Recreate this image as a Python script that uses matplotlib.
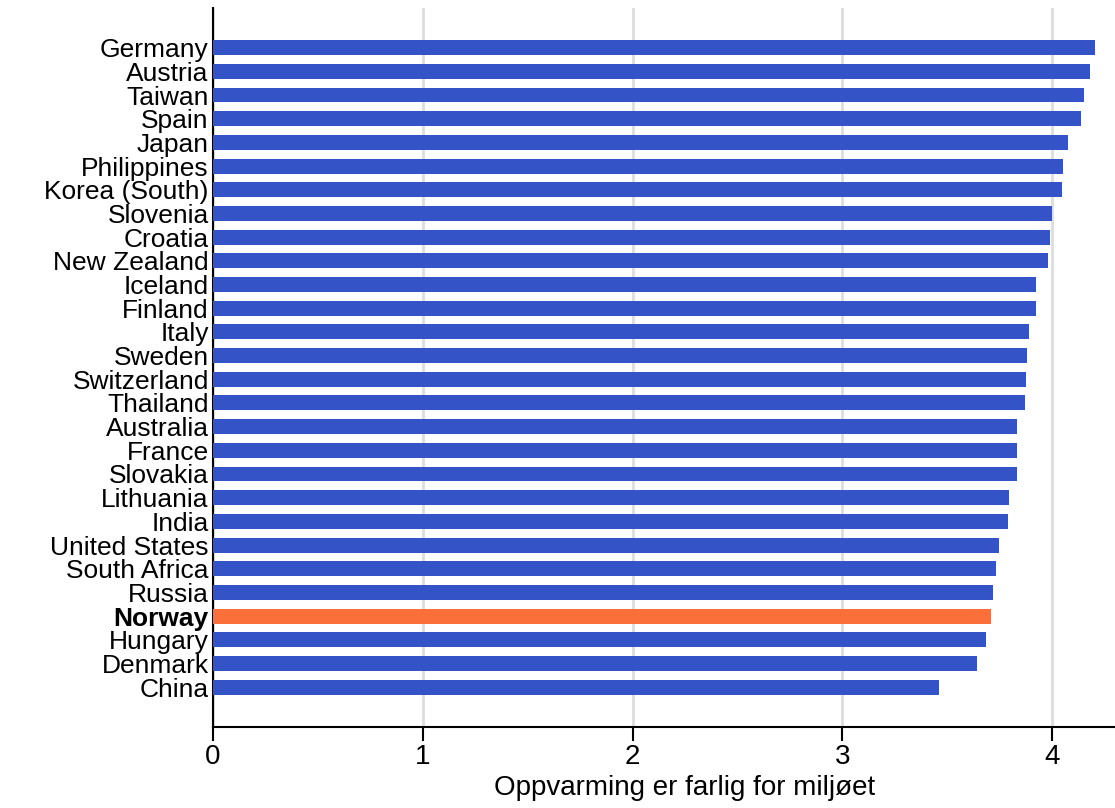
import numpy as np
import matplotlib.pyplot as plt

plt.rcParams['font.family'] = ['Liberation Sans', 'DejaVu Sans']

# data, top to bottom as in the chart
countries = ["Germany", "Austria", "Taiwan", "Spain", "Japan", "Philippines",
             "Korea (South)", "Slovenia", "Croatia", "New Zealand", "Iceland",
             "Finland", "Italy", "Sweden", "Switzerland", "Thailand", "Australia",
             "France", "Slovakia", "Lithuania", "India", "United States",
             "South Africa", "Russia", "Norway", "Hungary", "Denmark", "China"]
values = [4.205, 4.181, 4.153, 4.138, 4.076, 4.052, 4.048, 4.000, 3.990, 3.981,
          3.924, 3.924, 3.890, 3.881, 3.876, 3.871, 3.833, 3.833, 3.833, 3.795,
          3.790, 3.747, 3.733, 3.719, 3.709, 3.685, 3.642, 3.461]
highlight = "Norway"
xlabel = "Oppvarming er farlig for miljøet"

blue = "#3353c7"
orange = "#fb6f3b"

fig = plt.figure(figsize=(11.15, 8.08), dpi=100)
ax = fig.add_axes([0.191, 0.100, 0.809, 0.890])

n = len(countries)
ypos = np.arange(n)[::-1]
colors = [orange if c == highlight else blue for c in countries]
ax.barh(ypos, values, height=0.63, color=colors, zorder=3)

ax.set_xlim(0, 4.30)
ax.set_ylim(-1.69, n - 1 + 1.67)
ax.set_xticks([0, 1, 2, 3, 4])
ax.tick_params(axis='x', labelsize=20, length=10, width=1.5, pad=2)
ax.set_yticks(ypos)
ax.set_yticklabels(countries, fontsize=19)
ax.tick_params(axis='y', length=0, pad=3)
for lbl in ax.get_yticklabels():
    if lbl.get_text() == highlight:
        lbl.set_fontweight('bold')

ax.grid(axis='x', color='#dddddd', linewidth=2, zorder=0)
ax.set_axisbelow(True)
for s in ['top', 'right']:
    ax.spines[s].set_visible(False)
for s in ['left', 'bottom']:
    ax.spines[s].set_linewidth(1.5)

ax.set_xlabel(xlabel, fontsize=20)
ax.xaxis.set_label_coords(0.523, -0.066)

fig.savefig("out.png", dpi=100)
